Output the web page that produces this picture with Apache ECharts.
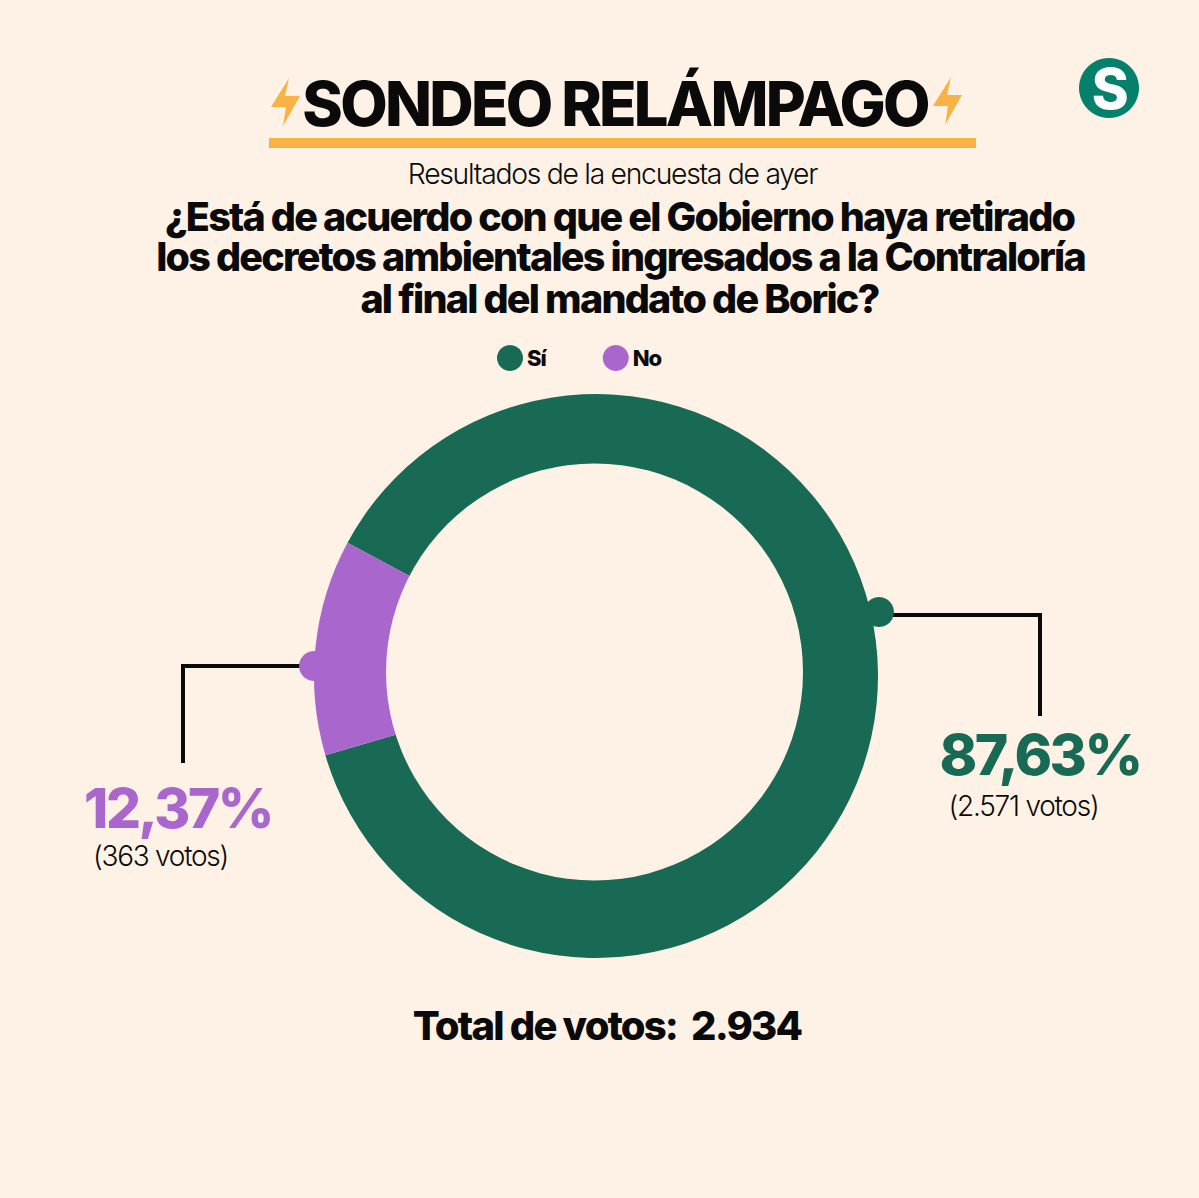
<!DOCTYPE html>
<html>
<head>
<meta charset="utf-8">
<style>
html, body { margin: 0; padding: 0; background: #fef2e6; }
#main { width: 1199px; height: 1198px; }
#main text { letter-spacing: -0.045em; }
</style>
<script src="https://cdn.jsdelivr.net/npm/echarts@6/dist/echarts.min.js"></script>
</head>
<body>
<div id="main"></div>
<script>
var categories = ['Sí', 'No'];
var votes = [2571, 363];
var percentLabels = ['87,63%', '12,37%'];
var voteLabels = ['(2.571 votos)', '(363 votos)'];
var totalLabel = 'Total de votos:  2.934';
var heading = 'SONDEO RELÁMPAGO';
var subheading = 'Resultados de la encuesta de ayer';
var question = [
    '¿Está de acuerdo con que el Gobierno haya retirado',
    'los decretos ambientales ingresados a la Contraloría',
    'al final del mandato de Boric?'
];

var paper = '#fef2e6', green = '#196a55', purple = '#a966cc', orange = '#f9b243', ink = '#0a0a0a';
var heavy = 'Inter, "Liberation Sans", sans-serif';

function text(str, x, y, size, weight, color) {
    return {
        type: 'text', x: x, y: y, z: 10, silent: true,
        style: {
            text: str, fill: color, align: 'center', verticalAlign: 'middle',
            font: weight + ' ' + size + 'px ' + heavy
        }
    };
}

function bolt(dx, dy) {
    return {
        type: 'polygon', x: dx, y: dy, silent: true,
        shape: { points: [[289, 78], [271, 107], [286, 107], [283, 126], [300, 96], [285, 96]] },
        style: { fill: orange }
    };
}

function leader(points) {
    return {
        type: 'polyline', silent: true,
        shape: { points: points },
        style: { stroke: ink, lineWidth: 4, fill: null, lineJoin: 'miter' }
    };
}

function dot(x, y, color) {
    return { type: 'circle', z: 10, silent: true, shape: { cx: x, cy: y, r: 15 }, style: { fill: color } };
}

var chart = echarts.init(document.getElementById('main'), null, { renderer: 'svg' });

var option = {
    backgroundColor: paper,
    animation: false,
    color: [green, purple],
    legend: {
        data: categories,
        top: 340,
        left: 492,
        icon: 'circle',
        itemWidth: 26,
        itemHeight: 26,
        itemGap: 55,
        selectedMode: false,
        textStyle: { fontFamily: heavy, fontSize: 22, fontWeight: 800, color: ink, padding: [0, 0, 0, -1] }
    },
    series: [{
        type: 'pie',
        center: [596, 676],
        radius: [200, 282],
        startAngle: 151.8,
        silent: true,
        label: { show: false },
        labelLine: { show: false },
        data: categories.map(function (name, i) {
            return { name: name, value: votes[i] };
        })
    }],
    graphic: [
        // the hole sits slightly up and left of the ring's centre in the original
        { type: 'circle', z: 10, silent: true, shape: { cx: 594.5, cy: 672, r: 208.5 }, style: { fill: paper } },
        bolt(0, 0),
        bolt(662, -1),
        { type: 'rect', silent: true, shape: { x: 269, y: 138, width: 707, height: 10 }, style: { fill: orange } },
        text(heading, 615, 103, 61.5, 800, ink),
        text(subheading, 612.5, 174, 28.3, 300, ink),
        text(question[0], 619.5, 216.5, 39.5, 800, ink),
        text(question[1], 620.5, 257, 39.5, 800, ink),
        text(question[2], 619.5, 299, 39.5, 800, ink),
        { type: 'circle', silent: true, shape: { cx: 1109, cy: 88, r: 30 }, style: { fill: '#05806a' } },
        text('S', 1109, 89, 56, 800, '#ffffff'),
        leader([[885, 615], [1040, 615], [1040, 716]]),
        dot(879, 612, green),
        text(percentLabels[0], 1040, 754, 57, 800, green),
        text(voteLabels[0], 1023.5, 806, 28, 300, ink),
        leader([[305, 666], [183, 666], [183, 763]]),
        dot(314, 666, purple),
        text(percentLabels[1], 178, 808, 55, 800, purple),
        text(voteLabels[1], 160.5, 856, 28, 300, ink),
        text(totalLabel, 607, 1025, 40, 800, ink)
    ]
};

chart.setOption(option);
</script>
</body>
</html>
